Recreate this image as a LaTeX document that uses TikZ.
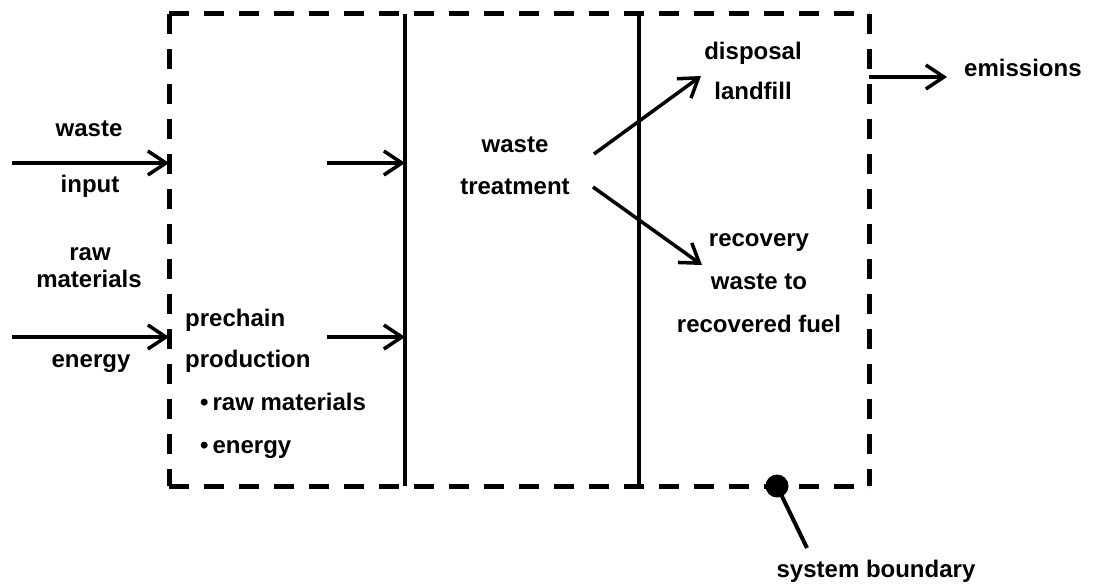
\documentclass[tikz,border=0pt]{standalone}
\usepackage{fontspec}
\setmainfont{Liberation Sans}
\usetikzlibrary{arrows.meta}
\tikzset{
  lbl/.style={inner sep=0pt, anchor=base, font=\fontsize{24}{28}\selectfont\bfseries},
  lblw/.style={lbl, anchor=base west},
  flow/.style={line width=3.5pt, -{Straight Barb[length=18pt,width=24pt,line width=3.5pt]}},
  boundary/.style={line width=5pt, dash pattern=on 20pt off 15pt},
  divider/.style={line width=3.8pt},
}
\begin{document}
\begin{tikzpicture}[x=1pt,y=-1pt]
\useasboundingbox (0,0) rectangle (1099,585);

% system boundary corners
\coordinate (tl) at (169,14);
\coordinate (tr) at (869,14);
\coordinate (bl) at (169,486);
\coordinate (br) at (869,486);
\draw[boundary] (tl) -- (tr);
\draw[boundary] (tl) -- (bl);
\draw[boundary] (bl) -- (br);
\draw[boundary] (tr) -- (br);

% stage dividers
\coordinate (d1t) at (405,14);
\coordinate (d1b) at (405,486);
\coordinate (d2t) at (639,14);
\coordinate (d2b) at (639,486);
\draw[divider] (d1t) -- (d1b);
\draw[divider] (d2t) -- (d2b);

% inputs
\coordinate (win0) at (12,163);
\coordinate (win1) at (169,163);
\coordinate (win2) at (327,163);
\coordinate (win3) at (405,163);
\coordinate (en0) at (12,337);
\coordinate (en1) at (169,337);
\coordinate (en2) at (327,337);
\coordinate (en3) at (405,337);
\draw[flow] (win0) -- (win1);
\draw[flow] (win2) -- (win3);
\draw[flow] (en0) -- (en1);
\draw[flow] (en2) -- (en3);

\node[lbl] (waste) at (89,137) {waste};
\node[lbl] (input) at (90,193) {input};
\node[lbl] (raw) at (90,260) {raw};
\node[lbl] (materials) at (89,287) {materials};
\node[lbl] (energy) at (91,367) {energy};

% prechain production
\node[lblw] (prechain) at (185,326) {prechain};
\node[lblw] (production) at (185,367) {production};
\node[lblw] (bulraw) at (200,410) {\textbullet\,raw materials};
\node[lblw] (bulen) at (200,453) {\textbullet\,energy};

% waste treatment
\node[lbl] (wt1) at (515,153) {waste};
\node[lbl] (wt2) at (515,195) {treatment};

\coordinate (tu) at (594,154);
\coordinate (td) at (593,187);
\coordinate (dispend) at (701,76);
\coordinate (recend) at (702,265);
\draw[flow] (tu) -- (dispend);
\draw[flow] (td) -- (recend);

% outputs
\node[lbl] (disposal) at (753,60) {disposal};
\node[lbl] (landfill) at (753,100) {landfill};
\node[lbl] (recovery) at (759,247) {recovery};
\node[lbl] (wasteto) at (759,289) {waste to};
\node[lbl] (fuel) at (759,332) {recovered fuel};

% emissions
\coordinate (em0) at (869,77);
\coordinate (em1) at (947,77);
\draw[flow] (em0) -- (em1);
\node[lblw] (emissions) at (964,77) {emissions};

% boundary label
\fill (777,486) circle (11.5) coordinate (dot);
\coordinate (lead) at (807,548);
\draw[line width=4pt] (dot) -- (lead);
\node[lbl] (sysb) at (876,577) {system boundary};
\end{tikzpicture}
\end{document}
